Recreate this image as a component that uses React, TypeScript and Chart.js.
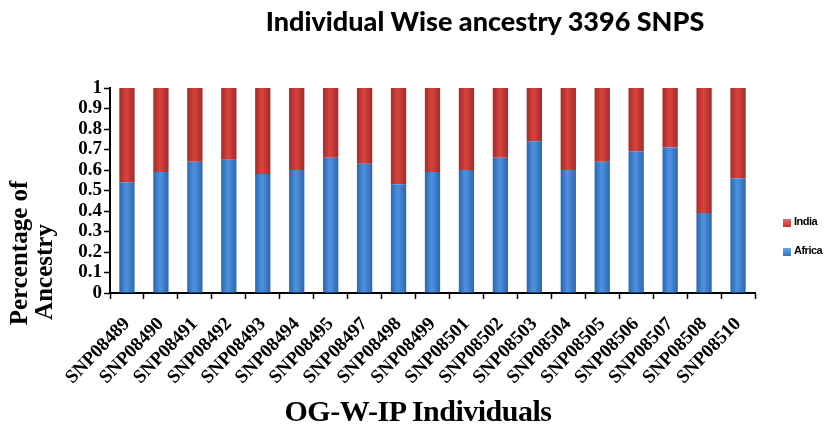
import React, { useEffect, useRef } from "react";
import { Chart, registerables } from "chart.js";

Chart.register(...registerables);

const categories = [
  "SNP08489", "SNP08490", "SNP08491", "SNP08492", "SNP08493", "SNP08494", "SNP08495",
  "SNP08497", "SNP08498", "SNP08499", "SNP08501", "SNP08502", "SNP08503", "SNP08504",
  "SNP08505", "SNP08506", "SNP08507", "SNP08508", "SNP08510",
];
const africa = [0.54, 0.59, 0.64, 0.65, 0.58, 0.6, 0.66, 0.63, 0.53, 0.59, 0.6, 0.66, 0.74, 0.6, 0.64, 0.69, 0.71, 0.39, 0.56];
const india = [0.46, 0.41, 0.36, 0.35, 0.42, 0.4, 0.34, 0.37, 0.47, 0.41, 0.4, 0.34, 0.26, 0.4, 0.36, 0.31, 0.29, 0.61, 0.44];
const seriesNames = ["Africa", "India"];
const yTickLabels = ["0", "0.1", "0.2", "0.3", "0.4", "0.5", "0.6", "0.7", "0.8", "0.9", "1"];
const chartTitle = "Individual Wise ancestry 3396 SNPS";
const xTitle = "OG-W-IP Individuals";
const yTitleLines = ["Percentage of", "Ancestry"];

const BAR_FRAC = 0.45;

const makeGrad = (edge: string, mid: string) => (ctx: any) => {
  const chart = ctx.chart;
  const xs = chart.scales && chart.scales.x;
  if (!xs || ctx.dataIndex == null || !chart.ctx) return mid;
  const x = xs.getPixelForValue(ctx.dataIndex);
  const hw = (xs.width / categories.length) * BAR_FRAC / 2;
  if (!isFinite(x) || !isFinite(hw)) return mid;
  const g = chart.ctx.createLinearGradient(x - hw, 0, x + hw, 0);
  g.addColorStop(0, edge);
  g.addColorStop(0.45, mid);
  g.addColorStop(1, edge);
  return g;
};

export default function App() {
  const ref = useRef<HTMLCanvasElement | null>(null);

  useEffect(() => {
    if (!ref.current) return;
    const chart = new Chart(ref.current, {
      type: "bar",
      data: {
        labels: categories,
        datasets: [
          {
            label: seriesNames[0],
            data: africa,
            backgroundColor: makeGrad("#2c66b0", "#4d93e0"),
            barPercentage: BAR_FRAC,
            categoryPercentage: 1,
          },
          {
            label: seriesNames[1],
            data: india,
            backgroundColor: makeGrad("#a52a28", "#d8443d"),
            barPercentage: BAR_FRAC,
            categoryPercentage: 1,
          },
        ],
      },
      options: {
        animation: false,
        responsive: false,
        maintainAspectRatio: false,
        layout: { padding: { left: 0, right: 82, top: 88, bottom: 0 } },
        plugins: {
          legend: { display: false },
          title: { display: false },
          tooltip: { enabled: false },
        },
        scales: {
          x: {
            stacked: true,
            grid: {
              display: true,
              drawOnChartArea: false,
              drawTicks: true,
              tickLength: 6,
              tickWidth: 1.5,
              tickColor: "#000",
              offset: true,
            },
            border: { display: true, color: "#000", width: 2 },
            ticks: {
              color: "#000",
              font: { family: "'Liberation Serif', serif", weight: "bold", size: 19 },
              maxRotation: 46,
              minRotation: 46,
              autoSkip: false,
              padding: 14,
            },
            afterFit: (scale: any) => {
              scale.height = 136;
            },
          },
          y: {
            stacked: true,
            min: 0,
            max: 1,
            ticks: {
              stepSize: 0.1,
              autoSkip: false,
              color: "#000",
              font: { family: "'Liberation Serif', serif", weight: "bold", size: 19 },
              padding: 2,
              callback: (_v: any, i: number) => yTickLabels[i],
            },
            grid: {
              display: true,
              drawOnChartArea: false,
              drawTicks: true,
              tickLength: 6,
              tickWidth: 1.5,
              tickColor: "#000",
            },
            border: { display: true, color: "#000", width: 2 },
            afterFit: (scale: any) => {
              scale.width = 110;
            },
          },
        },
      },
    });
    return () => chart.destroy();
  }, []);

  const serifBold: React.CSSProperties = {
    fontFamily: "'Liberation Serif', serif",
    fontWeight: "bold",
    color: "#000",
    position: "absolute",
    whiteSpace: "nowrap",
  };
  const legendText: React.CSSProperties = {
    position: "absolute",
    fontFamily: "'Liberation Sans', Arial, sans-serif",
    fontWeight: "bold",
    fontSize: 11,
    letterSpacing: -0.5,
    color: "#000",
    whiteSpace: "nowrap",
  };

  return (
    <div style={{ position: "fixed", left: 0, top: 0, width: 837, height: 429, background: "#fff", overflow: "hidden" }}>
      <canvas ref={ref} width={837} height={429} style={{ position: "absolute", left: 0, top: 0 }} />
      <div
        style={{
          position: "absolute",
          left: 485,
          top: 20,
          transform: "translate(-50%, -50%)",
          fontFamily: "Lato, 'Open Sans', sans-serif",
          fontWeight: 900,
          fontSize: 27,
          whiteSpace: "nowrap",
          color: "#000",
        }}
      >
        {chartTitle}
      </div>
      <div style={{ ...serifBold, left: 19, top: 253, fontSize: 25, transform: "translate(-50%, -50%) rotate(-90deg)" }}>
        {yTitleLines[0]}
      </div>
      <div style={{ ...serifBold, left: 44, top: 272, fontSize: 25, transform: "translate(-50%, -50%) rotate(-90deg)" }}>
        {yTitleLines[1]}
      </div>
      <div style={{ ...serifBold, left: 418, top: 411, fontSize: 30, letterSpacing: -0.5, transform: "translate(-50%, -50%)" }}>
        {xTitle}
      </div>
      <div style={{ position: "absolute", left: 783, top: 219, width: 8, height: 8, background: "linear-gradient(#e86a66, #c0302c)" }} />
      <div style={{ ...legendText, left: 794, top: 215 }}>{seriesNames[1]}</div>
      <div style={{ position: "absolute", left: 783, top: 248, width: 8, height: 8, background: "linear-gradient(#6aa8ea, #2f6fbe)" }} />
      <div style={{ ...legendText, left: 794, top: 244 }}>{seriesNames[0]}</div>
    </div>
  );
}
